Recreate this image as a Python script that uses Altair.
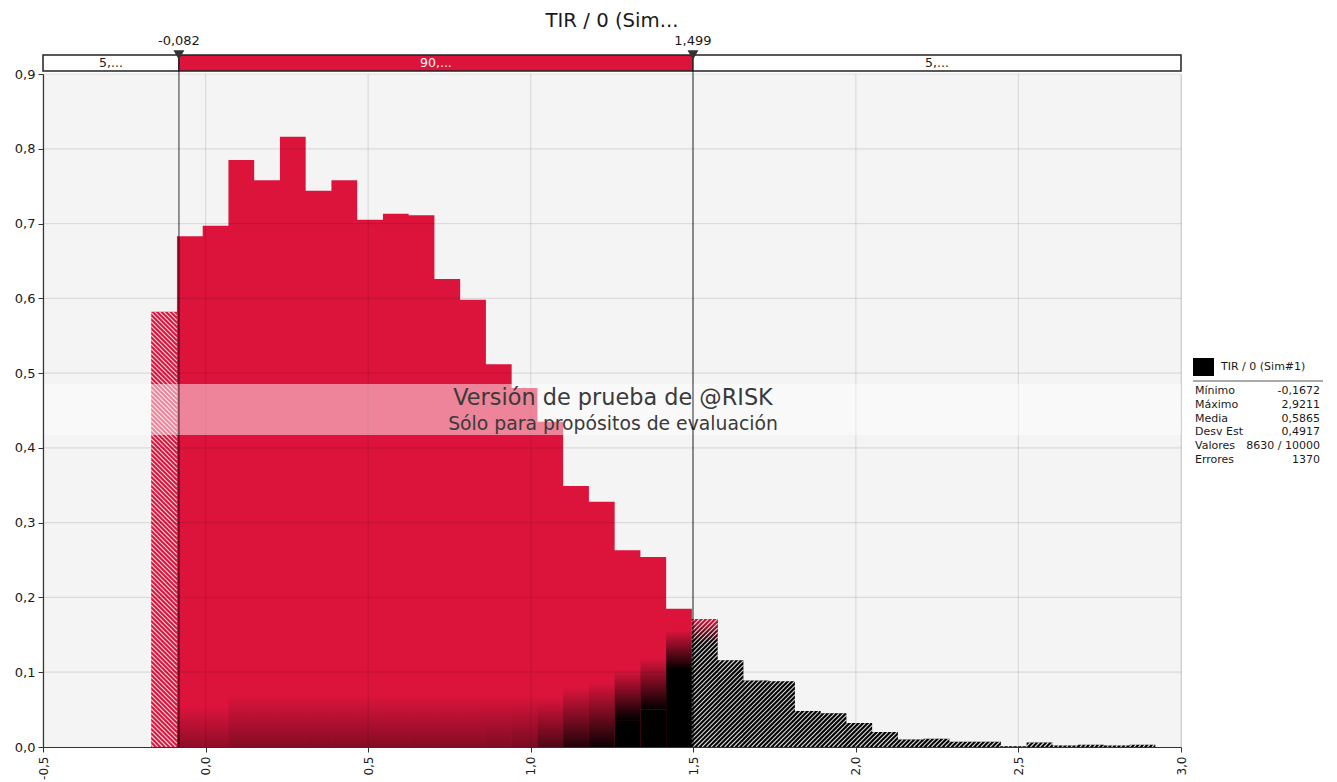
import math
import altair as alt
import numpy as np
import pandas as pd

# ---------------- data ----------------
stat_min = -0.1672
stat_max = 2.9211
n_bins = 39
heights = [0.582, 0.683, 0.697, 0.785, 0.758, 0.816, 0.744, 0.758, 0.705, 0.713,
           0.711, 0.626, 0.598, 0.512, 0.480, 0.435, 0.349, 0.328, 0.263, 0.254,
           0.185, 0.171, 0.116, 0.089, 0.088, 0.048, 0.045, 0.032, 0.020, 0.010,
           0.011, 0.007, 0.007, 0.001, 0.006, 0.002, 0.003, 0.002, 0.003]

# dark shading at the foot of the bars in the 90% region (bins 1..20)
shade_top = [0.055, 0.055, 0.07, 0.07, 0.07, 0.07, 0.07, 0.07, 0.07, 0.07,
             0.07, 0.07, 0.07, 0.07, 0.067, 0.08, 0.087, 0.103, 0.119, 0.156]
shade_solid = [0, 0, 0, 0, 0, 0, 0, 0, 0, 0,
               0, 0, 0, 0, 0, 0, 0, 0.036, 0.05, 0.103]
shade_alpha = [0.35, 0.35, 0.4, 0.4, 0.4, 0.4, 0.4, 0.4, 0.4, 0.4,
               0.4, 0.4, 0.42, 0.45, 0.65, 0.85, 0.95, 1, 1, 1]
fade_bottom = 0.139  # red fade on first bin of right tail

cut_values = [-0.082, 1.499]
cut_labels = ["-0,082", "1,499"]
region_lo = [-0.5, -0.082, 1.499]
region_hi = [-0.082, 1.499, 3.0]
region_labels = ["5,...", "90,...", "5,..."]

x_ticks = [-0.5, 0.0, 0.5, 1.0, 1.5, 2.0, 2.5, 3.0]
y_ticks = [0.0, 0.1, 0.2, 0.3, 0.4, 0.5, 0.6, 0.7, 0.8, 0.9]

stat_labels = ["Mínimo", "Máximo", "Media", "Desv Est", "Valores", "Errores"]
stat_values = ["-0,1672", "2,9211", "0,5865", "0,4917", "8630 / 10000", "1370"]

title_text = "TIR / 0 (Sim..."
legend_text = "TIR / 0 (Sim#1)"
wm_line1 = "Versión de prueba de @RISK"
wm_line2 = "Sólo para propósitos de evaluación"

# ---------------- geometry ----------------
W, H = 1138, 673
XMIN, XMAX = -0.5, 3.0
YMAX = 0.9
CRIMSON = "#DC143C"
FONT = "DejaVu Sans"

edges = np.linspace(stat_min, stat_max, n_bins + 1)
lo = edges[:-1]
hi = edges[1:]
kinds = ["left"] + ["mid"] * 20 + ["right"] * (n_bins - 21)

bars = pd.DataFrame({"lo": lo, "hi": hi, "h": heights, "base": 0.0, "kind": kinds})
mid = bars[bars.kind == "mid"].copy().reset_index(drop=True)
mid["top"] = shade_top
mid["solid"] = shade_solid
mid["alpha"] = shade_alpha
left = bars[bars.kind == "left"]
right = bars[bars.kind == "right"].reset_index(drop=True)
fade = right.iloc[[0]].copy()
fade["fb"] = fade_bottom


def step_outline(df):
    # points for a seamless step-after area over consecutive bins
    xs_ = list(df.lo) + [df.hi.iloc[-1]]
    hs_ = list(df.h) + [df.h.iloc[-1]]
    return pd.DataFrame({"x": xs_, "h": hs_, "base": 0.0})


mid_area = step_outline(mid)
right_area = step_outline(right)


def px_x(v):
    return (v - XMIN) / (XMAX - XMIN) * W


def px_y(v):
    return H - v / YMAX * H


def inv_x(p):
    return p / W * (XMAX - XMIN) + XMIN


def inv_y(p):
    return (H - p) / H * YMAX


def hatch(lo_v, hi_v, top_v, direction, spacing=4.5):
    a, b, t, btm = px_x(lo_v), px_x(hi_v), px_y(top_v), H
    segs = []
    if direction == "/":
        for k in range(math.ceil((a + t) / spacing), math.floor((b + btm) / spacing) + 1):
            c = k * spacing
            xs_, xe = max(a, c - btm), min(b, c - t)
            if xe - xs_ > 0.2:
                segs.append((xs_, c - xs_, xe, c - xe))
    else:
        for k in range(math.ceil((a - btm) / spacing), math.floor((b - t) / spacing) + 1):
            c = k * spacing
            xs_, xe = max(a, t + c), min(b, btm + c)
            if xe - xs_ > 0.2:
                segs.append((xs_, xs_ - c, xe, xe - c))
    return [{"x1": inv_x(s[0]), "y1": inv_y(s[1]), "x2": inv_x(s[2]), "y2": inv_y(s[3])} for s in segs]


hatch_rows = []
for _, r in left.iterrows():
    hatch_rows += hatch(r.lo, r.hi, r.h, "\\")
for _, r in right.iterrows():
    hatch_rows += hatch(r.lo, r.hi, r.h, "/")
hatch_df = pd.DataFrame(hatch_rows)

regions = pd.DataFrame({"lo": region_lo, "hi": region_hi, "label": region_labels,
                        "fill": ["white", CRIMSON, "white"],
                        "tcol": ["#222222", "white", "#222222"]})
regions["mid"] = (regions.lo + regions.hi) / 2
cuts = pd.DataFrame({"v": cut_values, "label": cut_labels})
gx = pd.DataFrame({"v": x_ticks})
gy = pd.DataFrame({"v": y_ticks[1:]})
one = pd.DataFrame({"a": [1]})

# ---------------- scales / axes ----------------
xs = alt.Scale(domain=[XMIN, XMAX], nice=False, zero=False)
ys = alt.Scale(domain=[0, YMAX], nice=False, zero=False)
lab_expr = "replace(replace(format(datum.value, '.1f'), '.', ','), '\u2212', '-')"
axis_x = alt.Axis(values=x_ticks, labelExpr=lab_expr, labelAngle=-90, grid=False, title=None,
                  tickSize=5, labelPadding=4, labelFontSize=12, labelColor="#1a1a1a",
                  domainColor="#333333", tickColor="#333333", domainWidth=1.2, zindex=1,
                  labelFont=FONT)
axis_y = alt.Axis(values=y_ticks, labelExpr=lab_expr, grid=False, title=None,
                  tickSize=5, labelPadding=3, labelFontSize=13, labelColor="#1a1a1a",
                  domainColor="#333333", tickColor="#333333", domainWidth=1.2, zindex=1,
                  labelFont=FONT)


def X(f):
    return alt.X(f, scale=xs, axis=axis_x)


def Y(f):
    return alt.Y(f, scale=ys, axis=axis_y)


# ---------------- layers ----------------
background = alt.Chart(one).mark_rect(color="#f4f4f4").encode(
    x=alt.value(0), x2=alt.value(W), y=alt.value(0), y2=alt.value(H))

red_bars = alt.Chart(mid_area).mark_area(color=CRIMSON, interpolate="step-after").encode(
    x=X("x:Q"), y=Y("h:Q"), y2="base:Q")

solid_dark = alt.Chart(mid[mid.solid > 0]).mark_rect(color="black").encode(
    x=X("lo:Q"), x2="hi:Q", y=Y("base:Q"), y2="solid:Q")

grad = alt.LinearGradient(gradient="linear",
                          stops=[alt.GradientStop(color="rgba(0,0,0,0)", offset=0),
                                 alt.GradientStop(color="black", offset=1)],
                          x1=0, x2=0, y1=0, y2=1)
grad_dark = alt.Chart(mid).mark_rect(color=grad).encode(
    x=X("lo:Q"), x2="hi:Q", y=Y("solid:Q"), y2="top:Q",
    opacity=alt.Opacity("alpha:Q", scale=None))

left_bar = alt.Chart(left).mark_rect(color=CRIMSON).encode(
    x=X("lo:Q"), x2="hi:Q", y=Y("base:Q"), y2="h:Q")
right_bars = alt.Chart(right_area).mark_area(color="black", interpolate="step-after").encode(
    x=X("x:Q"), y=Y("h:Q"), y2="base:Q")

red_grad = alt.LinearGradient(gradient="linear",
                              stops=[alt.GradientStop(color=CRIMSON, offset=0),
                                     alt.GradientStop(color="rgba(220,20,60,0)", offset=1)],
                              x1=0, x2=0, y1=0, y2=1)
red_fade = alt.Chart(fade).mark_rect(color=red_grad).encode(
    x=X("lo:Q"), x2="hi:Q", y=Y("fb:Q"), y2="h:Q")

hatch_lines = alt.Chart(hatch_df).mark_rule(color="white", strokeWidth=1.1, opacity=0.85).encode(
    x=X("x1:Q"), y=Y("y1:Q"), x2="x2:Q", y2="y2:Q")

grid_v = alt.Chart(gx).mark_rule(color="black", opacity=0.1, strokeWidth=1.2).encode(x=X("v:Q"))
grid_h = alt.Chart(gy).mark_rule(color="black", opacity=0.1, strokeWidth=1.2).encode(y=Y("v:Q"))

band = alt.Chart(one).mark_rect(color="white", opacity=0.48).encode(
    x=alt.value(0), x2=alt.value(W), y=alt.value(310), y2=alt.value(361))
wm1 = alt.Chart(one).mark_text(font=FONT, fontSize=22.4, color="#3a3a3a", align="center",
                               baseline="middle").encode(
    x=alt.value(W / 2 + 1), y=alt.value(324), text=alt.value(wm_line1))
wm2 = alt.Chart(one).mark_text(font=FONT, fontSize=18.8, color="#3a3a3a", align="center",
                               baseline="middle").encode(
    x=alt.value(W / 2 + 1), y=alt.value(350), text=alt.value(wm_line2))

cut_lines = alt.Chart(cuts).mark_rule(color="black", opacity=0.5, strokeWidth=1.6).encode(
    x=X("v:Q"), y=alt.value(-19), y2=alt.value(H))
region_boxes = alt.Chart(regions).mark_rect(stroke="#222222", strokeWidth=1.5).encode(
    x=X("lo:Q"), x2="hi:Q", y=alt.value(-19), y2=alt.value(-3),
    fill=alt.Fill("fill:N", scale=None))
region_text = alt.Chart(regions).mark_text(font=FONT, fontSize=12.5, baseline="middle").encode(
    x=X("mid:Q"), y=alt.value(-11), text="label:N", color=alt.Color("tcol:N", scale=None))
cut_marks = alt.Chart(cuts).mark_point(shape="triangle-down", filled=True, size=120,
                                       color="#333333", opacity=1).encode(
    x=X("v:Q"), y=alt.value(-19))
cut_text = alt.Chart(cuts).mark_text(font=FONT, fontSize=13, color="#1a1a1a",
                                     baseline="middle").encode(
    x=X("v:Q"), y=alt.value(-33), text="label:N")

title = alt.Chart(one).mark_text(font=FONT, fontSize=19.7, color="#1a1a1a", baseline="middle").encode(
    x=alt.value(W / 2), y=alt.value(-53), text=alt.value(title_text))

leg_sq = alt.Chart(one).mark_rect(color="black").encode(
    x=alt.value(1150), x2=alt.value(1171), y=alt.value(284), y2=alt.value(302))
leg_txt = alt.Chart(one).mark_text(font=FONT, fontSize=11, color="#1a1a1a", align="left",
                                   baseline="middle").encode(
    x=alt.value(1178), y=alt.value(293), text=alt.value(legend_text))
leg_rule = alt.Chart(one).mark_rule(color="#aaaaaa", strokeWidth=2).encode(
    x=alt.value(1150), x2=alt.value(1280), y=alt.value(307))
stat_l = alt.Chart(one).mark_text(font=FONT, fontSize=11, color="#1a1a1a", align="left",
                                  baseline="top", lineBreak="\n", lineHeight=13.8).encode(
    x=alt.value(1152), y=alt.value(311), text=alt.value("\n".join(stat_labels)))
stat_v = alt.Chart(one).mark_text(font=FONT, fontSize=11, color="#1a1a1a", align="right",
                                  baseline="top", lineBreak="\n", lineHeight=13.8).encode(
    x=alt.value(1277), y=alt.value(311), text=alt.value("\n".join(stat_values)))

chart = alt.layer(
    background, red_bars, solid_dark, grad_dark, left_bar, right_bars, red_fade, hatch_lines,
    grid_v, grid_h, band, wm1, wm2, cut_lines, region_boxes, region_text, cut_marks,
    cut_text, title, leg_sq, leg_txt, leg_rule, stat_l, stat_v
).properties(
    width=W, height=H,
    padding={"left": 35, "top": 66, "right": 145, "bottom": 36},
    autosize=alt.AutoSizeParams(type="none"),
).configure_view(strokeWidth=0).configure(font=FONT)

chart.save("out.html", embed_options={"renderer": "svg", "actions": False})
